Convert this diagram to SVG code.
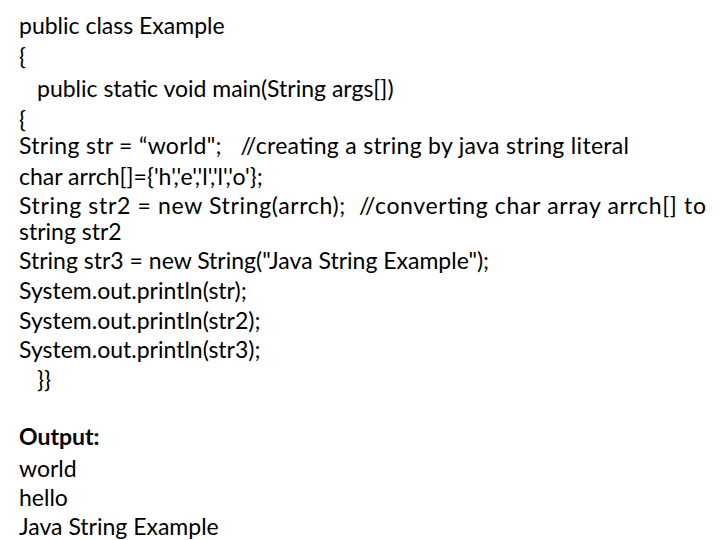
<svg xmlns="http://www.w3.org/2000/svg" width="720" height="540" viewBox="0 0 720 540" xml:space="preserve">
<style>text{font-family:Lato,"Open Sans","Liberation Sans",sans-serif;font-size:23px;fill:#000;white-space:pre}.b{font-weight:bold}</style>
<rect width="720" height="540" fill="#fff"/>
<text x="19" y="34">public class Example</text>
<text x="19" y="65">{</text>
<text x="37" y="97">public static void main(String args[])</text>
<text x="19" y="128">{</text>
<text x="19" y="154" textLength="610" lengthAdjust="spacing">String str = “world";   //creating a string by java string literal</text>
<text x="19" y="185">char arrch[]={'h','e','l','l','o'};</text>
<text x="19" y="214" textLength="687" lengthAdjust="spacing">String str2 = new String(arrch);  //converting char array arrch[] to</text>
<text x="19" y="240">string str2</text>
<text x="19" y="269">String str3 = new String("Java String Example");</text>
<text x="19" y="299">System.out.println(str);</text>
<text x="19" y="329">System.out.println(str2);</text>
<text x="19" y="358">System.out.println(str3);</text>
<text x="37" y="388">}}</text>
<text x="19" y="445" class="b">Output:</text>
<text x="19" y="477">world</text>
<text x="19" y="506">hello</text>
<text x="19" y="535">Java String Example</text>
</svg>
